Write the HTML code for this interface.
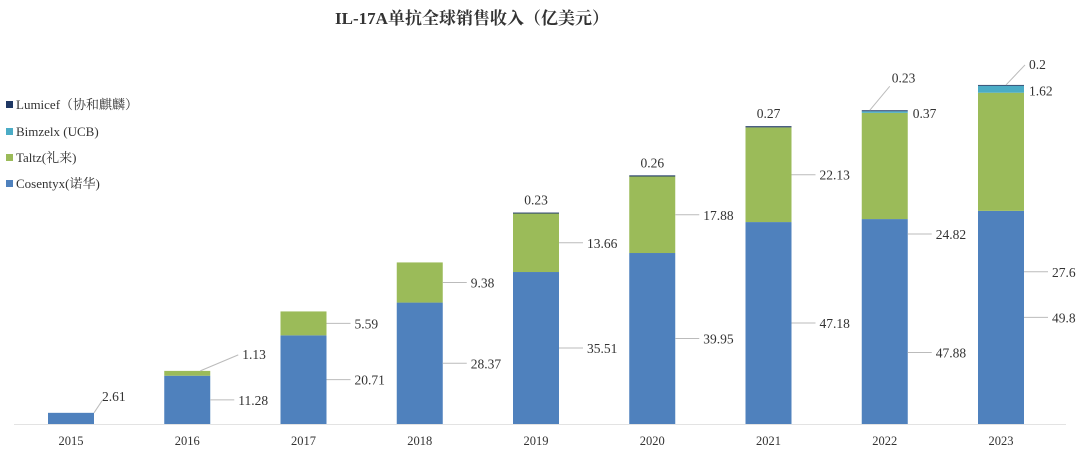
<!DOCTYPE html>
<html><head><meta charset="utf-8"><style>
body{margin:0;background:#fff;}
svg{display:block;font-family:"Liberation Serif","Noto Serif CJK SC",serif;}
</style></head><body>
<svg id="c" width="1080" height="455" viewBox="0 0 1080 455">
<text x="472" y="24" text-anchor="middle" font-size="17" font-weight="bold" fill="#333">IL-17A单抗全球销售收入（亿美元）</text>
<g font-size="13" fill="#333">
<g><rect x="6" y="101" width="7" height="7" fill="#1f3864"/><text x="16" y="109">Lumicef（协和麒麟）</text></g>
<g><rect x="6" y="128" width="7" height="7" fill="#4bacc6"/><text x="16" y="136">Bimzelx (UCB)</text></g>
<g><rect x="6" y="154" width="7" height="7" fill="#9bbb59"/><text x="16" y="162">Taltz(礼来)</text></g>
<g><rect x="6" y="180" width="7" height="7" fill="#4f81bd"/><text x="16" y="188">Cosentyx(诺华)</text></g>
</g>
<g id="plot"></g>
</svg>
<script>
const years=["2015","2016","2017","2018","2019","2020","2021","2022","2023"];
const cosentyx=[2.61,11.28,20.71,28.37,35.51,39.95,47.18,47.88,49.8];
const taltz=[0,1.13,5.59,9.38,13.66,17.88,22.13,24.82,27.6];
const bimzelx=[0,0,0,0,0,0,0,0.37,1.62];
const lumicef=[0,0,0,0,0.23,0.26,0.27,0.23,0.2];
const NS="http://www.w3.org/2000/svg";
const base=424, k=4.28, x0=71, step=116.25, bw=46;
const yS=v=>base-v*k;
const xS=i=>x0+i*step;
const g=document.getElementById('plot');
function el(t,a){const e=document.createElementNS(NS,t);for(const n in a)e.setAttribute(n,a[n]);g.appendChild(e);return e;}
function txt(x,y,s,anchor){const t=el('text',{x:x,y:y,'font-size':13.5,fill:'#333','text-anchor':anchor||'start'});t.textContent=s;return t;}
function line(x1,y1,x2,y2){el('line',{x1:x1,y1:y1,x2:x2,y2:y2,stroke:'#bbb','stroke-width':1});}
const series=[["cosentyx",cosentyx,"#4f81bd"],["taltz",taltz,"#9bbb59"],["bimzelx",bimzelx,"#4bacc6"],["lumicef",lumicef,"#1f3864"]];
years.forEach((yr,i)=>{
  let cum=0;const cx=xS(i),l=cx-bw/2,r=cx+bw/2;
  series.forEach(([nm,arr,col])=>{
    const v=arr[i];if(v<=0)return;
    const y1=yS(cum),y2=yS(cum+v);
    const b=el('rect',{x:l,y:y2,width:bw,height:Math.max(y1-y2,0.8),fill:col});
    
    
    const mid=(y1+y2)/2;
    let lt;
    if(nm==="cosentyx"){
      if(i===0){line(r,y2,r+8,y2-12);lt=txt(r+8,y2-12,v);}
      else{const dy=i===7?31:0;line(r,mid+dy,r+24,mid+dy);lt=txt(r+28,mid+dy+5,v);}
    }else if(nm==="taltz"){
      if(i===1){line(r-10,y2,r+28,y2-16);lt=txt(r+32,y2-12,v);}
      else{const dy=i===7?68:(i===8?120:0);line(r,mid+dy,r+24,mid+dy);lt=txt(r+28,mid+dy+5,v);}
    }else if(nm==="bimzelx"){
      lt=txt(r+5,mid+6,v);
    }else{
      if(i===8){line(cx+5,y2,cx+24,y2-20);lt=txt(cx+28,y2-16,v);}
      else if(i===7){line(cx-15,y2,cx+5,y2-24);lt=txt(cx+7,y2-28,v);}
      else{lt=txt(cx,y2-8,v,'middle');}
    }
    
    
    cum+=v;
  });
  const xt=txt(cx,445,yr,'middle');
  xt.setAttribute('font-size','12.5');
  
  
});
const ax=el('line',{x1:14,y1:base+0.5,x2:1066,y2:base+0.5,stroke:'#e3e3e3','stroke-width':1});


</script>
</body></html>
